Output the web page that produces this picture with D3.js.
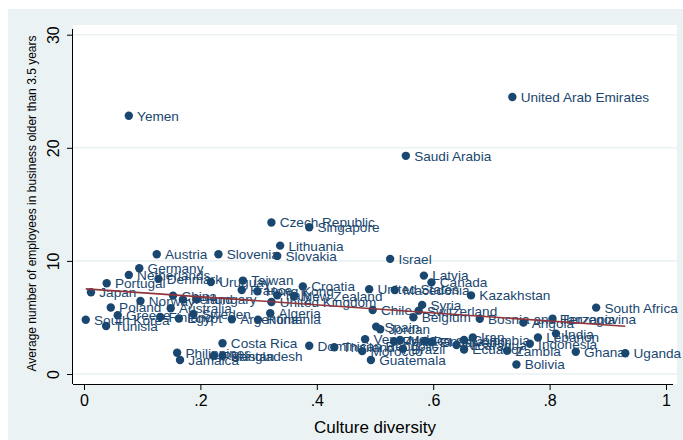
<!DOCTYPE html>
<html>
<head>
<meta charset="utf-8">
<script src="https://cdn.jsdelivr.net/npm/d3@7"></script>
<style>
  html, body { margin: 0; padding: 0; background: #ffffff; }
  svg { display: block; font-family: "Liberation Sans", Arial, Helvetica, sans-serif; }
</style>
</head>
<body>
<svg id="chart" width="683" height="440"></svg>
<script>
// Country names, culture diversity (x) and average employees in businesses older than 3.5 years (y)
const countries = [
  "United Arab Emirates","Yemen","Saudi Arabia","Czech Republic","Singapore","Lithuania","Slovakia","Israel",
  "Austria","Slovenia","Germany","Netherlands","Denmark","Portugal","Uruguay","Taiwan",
  "France","Hong Kong","Italy","New Zealand","Croatia","United States","Macedonia","Latvia",
  "Canada","Kazakhstan","Japan","China","Ireland","Hungary","Norway","United Kingdom",
  "Poland","Australia","Greece","Finland","Egypt","Sweden","Argentina","Romania",
  "Algeria","South Korea","Tunisia","Costa Rica","Philippines","Jamaica","Pakistan","Bangladesh",
  "Dominican Republic","Thailand","Chile","Syria","Switzerland","Belgium","Bosnia and Herzegovina","Spain",
  "Jordan","Venezuela","Peru","Mexico","Brazil","Morocco","Guatemala","Panama",
  "El Salvador","Nicaragua","Colombia","Iran","Ecuador","Zambia","Bolivia","South Africa",
  "Angola","Tanzania","India","Lebanon","Indonesia","Ghana","Uganda"
];
const diversity = [
  0.736,0.077,0.553,0.322,0.387,0.337,0.332,0.526,
  0.125,0.231,0.095,0.077,0.128,0.039,0.218,0.273,
  0.271,0.298,0.332,0.361,0.376,0.490,0.534,0.584,
  0.597,0.665,0.012,0.153,0.170,0.194,0.097,0.322,
  0.046,0.149,0.058,0.131,0.163,0.188,0.254,0.299,
  0.320,0.003,0.038,0.238,0.160,0.165,0.223,0.238,
  0.387,0.430,0.496,0.581,0.575,0.566,0.680,0.502,
  0.509,0.483,0.533,0.543,0.548,0.478,0.493,0.586,
  0.597,0.640,0.653,0.668,0.653,0.727,0.743,0.880,
  0.755,0.805,0.811,0.780,0.766,0.845,0.930
];
const employees = [
  24.49,22.83,19.29,13.39,12.98,11.35,10.44,10.18,
  10.59,10.59,9.35,8.76,8.41,8.03,8.14,8.26,
  7.43,7.32,6.96,6.90,7.73,7.50,7.43,8.70,
  8.10,6.95,7.23,6.93,6.58,6.61,6.46,6.37,
  5.88,5.82,5.20,5.04,4.91,5.31,4.84,4.81,
  5.37,4.80,4.25,2.72,1.88,1.24,1.62,1.62,
  2.50,2.36,5.66,6.11,5.60,5.02,4.89,4.19,
  3.96,3.08,2.88,3.01,2.24,2.02,1.24,2.92,
  2.83,2.57,3.01,3.23,2.17,2.06,0.84,5.87,
  4.54,4.89,3.57,3.23,2.68,1.97,1.83
];
const xTicks = [0, 0.2, 0.4, 0.6, 0.8, 1];
const yTicks = [0, 10, 20, 30];
const xTitle = "Culture diversity";
const yTitle = "Average number of employees in business older than 3.5 years";

const navy = "#1a476f";
const maroon = "#90353b";
const bgBlue = "#eaf2f3";

const svg = d3.select("#chart");

// graph region and plot region
svg.append("rect").attr("x", 8).attr("y", 9).attr("width", 675).attr("height", 431).attr("fill", bgBlue);
const plot = { left: 73, right: 677, top: 25, bottom: 384 };
svg.append("rect")
  .attr("x", plot.left).attr("y", plot.top)
  .attr("width", plot.right - plot.left).attr("height", plot.bottom - plot.top)
  .attr("fill", "#ffffff");

const x = d3.scaleLinear().domain([0, 1]).range([84, 666]);
const y = d3.scaleLinear().domain([0, 30]).range([374, 34.7]);

// horizontal grid lines
svg.append("g").selectAll("line").data(yTicks).join("line")
  .attr("x1", plot.left).attr("x2", plot.right)
  .attr("y1", d => y(d)).attr("y2", d => y(d))
  .attr("stroke", bgBlue).attr("stroke-width", 1.6);

const fmt = d => (d === 0 || d === 1) ? String(d) : String(d).replace(/^0/, "");

// x axis
const xAxis = svg.append("g").attr("transform", `translate(0,${plot.bottom})`)
  .call(d3.axisBottom(x).tickValues(xTicks).tickFormat(fmt).tickSize(6).tickPadding(5));
xAxis.select(".domain").attr("d", `M${plot.left},0.5H${plot.right - 4}`).attr("stroke", "#000");
xAxis.selectAll(".tick line").attr("stroke", "#000");
xAxis.selectAll(".tick text").attr("font-size", 16).attr("fill", "#000")
  .attr("font-family", "Liberation Sans, Arial, sans-serif");

// y axis
const yAxis = svg.append("g").attr("transform", `translate(${plot.left},0)`)
  .call(d3.axisLeft(y).tickValues(yTicks).tickFormat(fmt).tickSize(6).tickPadding(0));
yAxis.select(".domain").attr("d", `M-0.5,${plot.bottom}V${plot.top + 4}`).attr("stroke", "#000");
yAxis.selectAll(".tick line").attr("stroke", "#000");
yAxis.selectAll(".tick text")
  .attr("font-size", 16).attr("fill", "#000")
  .attr("font-family", "Liberation Sans, Arial, sans-serif")
  .attr("x", null).attr("dy", null)
  .attr("text-anchor", "middle")
  .attr("transform", "translate(-14,0) rotate(-90)");

// axis titles
svg.append("text")
  .attr("x", (plot.left + plot.right) / 2).attr("y", 433)
  .attr("text-anchor", "middle").attr("font-size", 17).attr("fill", "#000")
  .text(xTitle);
svg.append("text")
  .attr("transform", `translate(36,${(plot.top + plot.bottom) / 2 - 1}) rotate(-90)`)
  .attr("text-anchor", "middle").attr("font-size", 12).attr("fill", "#000")
  .text(yTitle);

// least-squares fit line over the observed range of x
const n = diversity.length;
const mx = d3.mean(diversity), my = d3.mean(employees);
let sxy = 0, sxx = 0;
for (let i = 0; i < n; i++) {
  sxy += (diversity[i] - mx) * (employees[i] - my);
  sxx += (diversity[i] - mx) ** 2;
}
const slope = sxy / sxx;
const intercept = my - slope * mx;
const [xmin, xmax] = d3.extent(diversity);

// points with labels
const pts = countries.map((c, i) => ({ name: c, x: diversity[i], y: employees[i] }));
const g = svg.append("g");
g.selectAll("circle").data(pts).join("circle")
  .attr("cx", d => x(d.x)).attr("cy", d => y(d.y)).attr("r", 4.2)
  .attr("fill", navy);
g.selectAll("text").data(pts).join("text")
  .attr("x", d => x(d.x) + 8.3).attr("y", d => y(d.y))
  .attr("dy", "0.36em").attr("font-size", 13.6).attr("fill", navy)
  .text(d => d.name);

svg.append("line")
  .attr("x1", x(xmin)).attr("y1", y(intercept + slope * xmin))
  .attr("x2", x(xmax)).attr("y2", y(intercept + slope * xmax))
  .attr("stroke", maroon).attr("stroke-width", 1.6);
</script>
</body>
</html>
